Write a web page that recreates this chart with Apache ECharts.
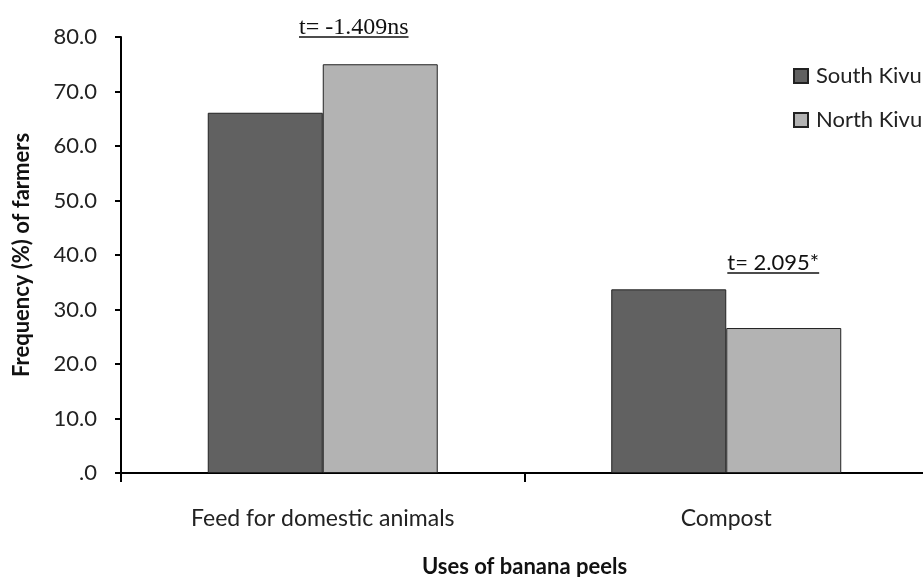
<!DOCTYPE html>
<html>
<head>
<meta charset="utf-8">
<script src="https://cdn.jsdelivr.net/npm/echarts@6/dist/echarts.min.js"></script>
<style>html,body{margin:0;padding:0;background:#fff;}#c{width:923px;height:577px;}</style>
</head>
<body>
<div id="c"></div>
<script>
var categories = ['Feed for domestic animals', 'Compost'];
var southKivu = [66.1, 33.7];
var northKivu = [75.0, 26.6];
var seriesNames = ['South Kivu', 'North Kivu'];
var tLabels = ['t= -1.409ns', 't= 2.095*'];

var chart = echarts.init(document.getElementById('c'));
var sansFont = 'Lato';
var option = {
  animation: false,
  backgroundColor: '#fff',
  grid: { left: 121, top: 37, bottom: 104, right: -5, outerBoundsMode: 'none', containLabel: false },
  legend: {
    orient: 'vertical',
    left: 788,
    top: 60,
    itemWidth: 14,
    itemHeight: 14,
    itemGap: 22,
    icon: 'rect',
    textStyle: { fontFamily: sansFont, fontSize: 22, color: '#222', padding: [0, 0, 0, 3] },
    data: seriesNames
  },
  xAxis: {
    type: 'category',
    data: categories,
    name: 'Uses of banana peels',
    nameLocation: 'middle',
    nameGap: 83,
    nameTextStyle: { fontFamily: sansFont, fontSize: 22, fontWeight: 'bold', color: '#111' },
    axisLine: { lineStyle: { color: '#000', width: 2 } },
    axisTick: { show: true, length: 9, lineStyle: { color: '#000', width: 2 } },
    axisLabel: { fontFamily: sansFont, fontSize: 23, color: '#222', margin: 34 }
  },
  yAxis: {
    type: 'value',
    min: 0, max: 80, interval: 10,
    name: 'Frequency (%) of farmers',
    nameLocation: 'middle',
    nameGap: 88,
    nameTextStyle: { fontFamily: sansFont, fontSize: 22, fontWeight: 'bold', color: '#111' },
    axisLine: { show: true, lineStyle: { color: '#000', width: 2 } },
    axisTick: { show: true, length: 6, lineStyle: { color: '#000', width: 2 } },
    splitLine: { show: false },
    axisLabel: {
      fontFamily: sansFont, fontSize: 22, color: '#222', margin: 24,
      formatter: function (v) { return v === 0 ? '.0' : v.toFixed(1); }
    }
  },
  series: [
    { name: seriesNames[0], type: 'bar', data: southKivu, barGap: '0%', barCategoryGap: '43%',
      itemStyle: { color: '#616161', borderColor: '#222', borderWidth: 1 } },
    { name: seriesNames[1], type: 'bar', data: northKivu, barGap: '0%', barCategoryGap: '43%',
      itemStyle: { color: '#b3b3b3', borderColor: '#222', borderWidth: 1 } }
  ]
};
chart.setOption(option);

function measure(text, font) {
  var cv = document.createElement('canvas').getContext('2d');
  cv.font = font;
  return cv.measureText(text).width;
}
// annotation anchors in data space: [category index, value], plus pixel offset
var annot = [
  { text: tLabels[0], cat: 0, val: 80, dx: 31, dy: -9, ul: 9, font: '24px "Liberation Serif"' },
  { text: tLabels[1], cat: 1, val: 38, dx: 47, dy: -3, ul: 10, font: '22px Lato' }
];
var g = [];
annot.forEach(function (a) {
  var p = chart.convertToPixel({ gridIndex: 0 }, [a.cat, a.val]);
  var x = p[0] + a.dx, y = p[1] + a.dy;
  var w = measure(a.text, a.font);
  g.push({ type: 'text', x: x, y: y, style: { text: a.text, font: a.font, fill: '#111', align: 'center', verticalAlign: 'middle' } });
  g.push({ type: 'line', shape: { x1: x - w / 2, y1: y + a.ul, x2: x + w / 2, y2: y + a.ul }, style: { stroke: '#111', lineWidth: 1.5 } });
});
chart.setOption({ graphic: g });
</script>
</body>
</html>
